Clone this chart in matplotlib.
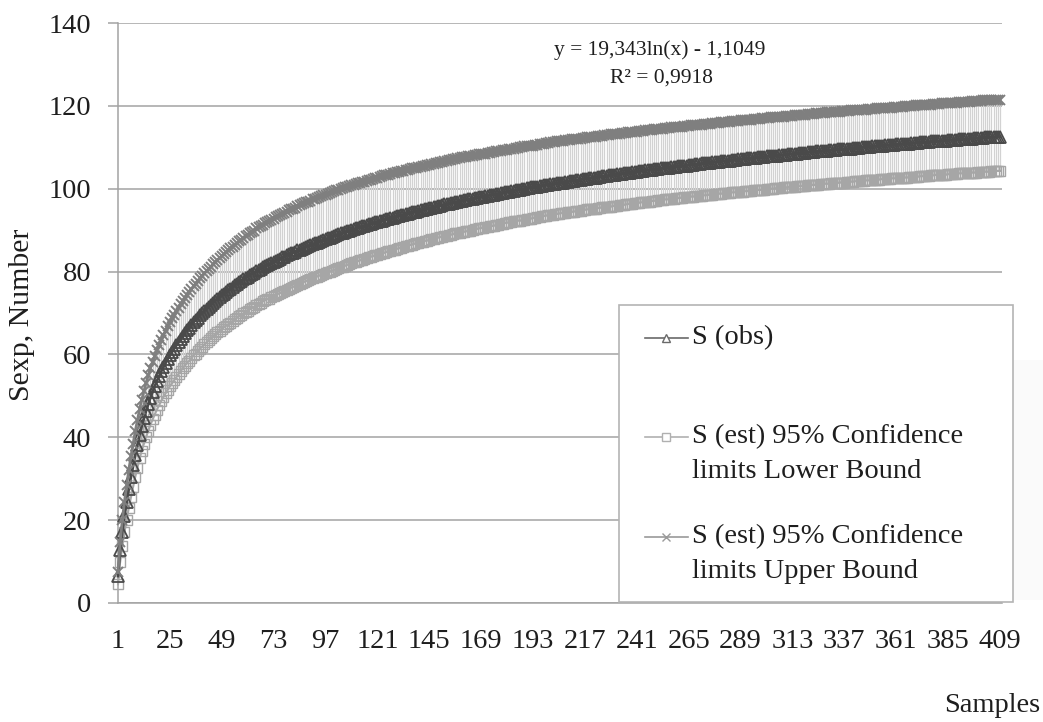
import matplotlib
matplotlib.use("Agg")
import matplotlib.pyplot as plt
from matplotlib.lines import Line2D
from matplotlib.patches import Rectangle

plt.rcParams['font.family'] = ['Liberation Serif', 'DejaVu Serif']

# ---------------- data ----------------
samples = list(range(1, 410))

s_obs = [
    6.5, 12.8, 17.2, 21.0, 24.4, 27.6, 30.5, 33.2, 35.8, 38.2,
    40.6, 42.7, 44.6, 46.4, 48.0, 49.6, 51.0, 52.3, 53.6, 54.7, 55.9, 56.9, 57.9, 58.9, 59.8,
    60.6, 61.4, 62.2, 63.0, 63.8, 64.5, 65.2, 65.9, 66.5, 67.2, 67.8, 68.3, 68.9, 69.5, 70.0,
    70.5, 71.0, 71.5, 72.0, 72.5, 73.0, 73.4, 73.8, 74.3, 74.7, 75.1, 75.5, 75.9, 76.3, 76.7,
    77.0, 77.4, 77.7, 78.1, 78.5, 78.8, 79.1, 79.4, 79.7, 80.1, 80.4, 80.7, 81.0, 81.3, 81.5,
    81.8, 82.1, 82.3, 82.6, 82.9, 83.1, 83.4, 83.6, 83.9, 84.2,
    84.4, 84.6, 84.8, 85.1, 85.3, 85.5, 85.8, 86.0, 86.2, 86.4,
    86.6, 86.8, 87.0, 87.2, 87.4, 87.6, 87.8, 88.0, 88.2, 88.4,
    88.6, 88.8, 89.0, 89.2, 89.3, 89.5, 89.7, 89.9, 90.1, 90.2,
    90.4, 90.6, 90.7, 90.9, 91.0, 91.2, 91.4, 91.5, 91.7, 91.9,
    92.0, 92.2, 92.3, 92.5, 92.6, 92.7, 92.9, 93.0, 93.2, 93.3,
    93.5, 93.6, 93.7, 93.9, 94.0, 94.1, 94.3, 94.4, 94.5, 94.7,
    94.8, 94.9, 95.0, 95.2, 95.3, 95.4, 95.5, 95.7, 95.8, 95.9,
    96.0, 96.2, 96.3, 96.4, 96.5, 96.6, 96.7, 96.8, 97.0, 97.1,
    97.2, 97.3, 97.4, 97.5, 97.6, 97.7, 97.8, 97.9, 98.0, 98.1,
    98.2, 98.3, 98.4, 98.5, 98.6, 98.7, 98.8, 98.9, 99.0, 99.1,
    99.2, 99.3, 99.4, 99.5, 99.6, 99.7, 99.8, 99.9, 100.0, 100.1,
    100.2, 100.3, 100.3, 100.4, 100.5, 100.6, 100.7, 100.8, 100.9, 101.0,
    101.1, 101.1, 101.2, 101.3, 101.4, 101.5, 101.5, 101.6, 101.7, 101.8,
    101.9, 101.9, 102.0, 102.1, 102.2, 102.3, 102.4, 102.4, 102.5, 102.6,
    102.7, 102.7, 102.8, 102.9, 103.0, 103.0, 103.1, 103.2, 103.3, 103.3,
    103.4, 103.5, 103.6, 103.6, 103.7, 103.8, 103.8, 103.9, 104.0, 104.1,
    104.1, 104.2, 104.3, 104.3, 104.4, 104.5, 104.5, 104.6, 104.7, 104.7,
    104.8, 104.9, 104.9, 105.0, 105.1, 105.1, 105.2, 105.3, 105.3, 105.4,
    105.5, 105.5, 105.6, 105.6, 105.7, 105.8, 105.8, 105.9, 105.9, 106.0,
    106.1, 106.1, 106.2, 106.2, 106.3, 106.4, 106.4, 106.5, 106.5, 106.6,
    106.7, 106.7, 106.8, 106.8, 106.9, 106.9, 107.0, 107.1, 107.1, 107.2,
    107.2, 107.3, 107.3, 107.4, 107.4, 107.5, 107.6, 107.6, 107.7, 107.7,
    107.8, 107.8, 107.9, 107.9, 108.0, 108.0, 108.1, 108.1, 108.2, 108.2,
    108.3, 108.4, 108.4, 108.5, 108.5, 108.6, 108.6, 108.7, 108.7, 108.8,
    108.8, 108.9, 108.9, 109.0, 109.0, 109.1, 109.1, 109.2, 109.2, 109.3,
    109.3, 109.4, 109.4, 109.5, 109.5, 109.5, 109.6, 109.6, 109.7, 109.7,
    109.8, 109.8, 109.9, 109.9, 110.0, 110.0, 110.1, 110.1, 110.1, 110.2,
    110.2, 110.3, 110.3, 110.4, 110.4, 110.5, 110.5, 110.5, 110.6, 110.6,
    110.7, 110.7, 110.8, 110.8, 110.9, 110.9, 110.9, 111.0, 111.0, 111.1,
    111.1, 111.2, 111.2, 111.2, 111.3, 111.3, 111.4, 111.4, 111.4, 111.5,
    111.5, 111.6, 111.6, 111.6, 111.7, 111.7, 111.8, 111.8, 111.8, 111.9,
    111.9, 112.0, 112.0, 112.0, 112.1, 112.1, 112.2, 112.2, 112.2, 112.3,
    112.3, 112.4, 112.4, 112.4, 112.5, 112.5, 112.5, 112.6, 112.6,
]

s_lower = [
    4.5, 10.0, 13.8, 17.1, 20.1, 23.0, 25.6, 28.1, 30.5, 32.7,
    34.9, 36.8, 38.5, 40.1, 41.5, 43.0, 44.3, 45.5, 46.7, 47.7, 48.8, 49.7, 50.6, 51.5, 52.3,
    53.0, 53.8, 54.5, 55.3, 56.0, 56.7, 57.3, 58.0, 58.5, 59.2, 59.8, 60.2, 60.8, 61.4, 61.9,
    62.4, 62.9, 63.4, 63.9, 64.4, 64.9, 65.3, 65.7, 66.2, 66.6, 66.9, 67.3, 67.7, 68.1, 68.5,
    68.8, 69.2, 69.5, 69.9, 70.3, 70.6, 70.9, 71.2, 71.5, 71.9, 72.2, 72.5, 72.8, 73.1, 73.3,
    73.5, 73.8, 74.0, 74.3, 74.6, 74.8, 75.1, 75.3, 75.6, 75.9,
    76.1, 76.3, 76.5, 76.8, 77.0, 77.2, 77.5, 77.7, 77.9, 78.1,
    78.4, 78.6, 78.8, 79.0, 79.2, 79.4, 79.6, 79.8, 80.0, 80.2,
    80.4, 80.6, 80.8, 81.0, 81.2, 81.4, 81.6, 81.8, 82.0, 82.2,
    82.3, 82.5, 82.7, 82.9, 83.0, 83.2, 83.4, 83.6, 83.7, 83.9,
    84.1, 84.2, 84.4, 84.5, 84.7, 84.9, 85.0, 85.2, 85.3, 85.5,
    85.6, 85.8, 85.9, 86.1, 86.2, 86.4, 86.5, 86.7, 86.8, 87.0,
    87.1, 87.2, 87.4, 87.5, 87.6, 87.8, 87.9, 88.0, 88.2, 88.3,
    88.4, 88.6, 88.7, 88.8, 88.9, 89.0, 89.2, 89.3, 89.4, 89.5,
    89.6, 89.7, 89.8, 89.9, 90.1, 90.2, 90.3, 90.4, 90.5, 90.6,
    90.7, 90.8, 90.9, 91.0, 91.1, 91.2, 91.3, 91.4, 91.6, 91.7,
    91.8, 91.9, 92.0, 92.1, 92.2, 92.3, 92.3, 92.4, 92.5, 92.6,
    92.7, 92.8, 92.9, 93.0, 93.1, 93.2, 93.3, 93.4, 93.5, 93.6,
    93.7, 93.7, 93.8, 93.9, 94.0, 94.1, 94.1, 94.2, 94.3, 94.4,
    94.4, 94.5, 94.6, 94.7, 94.7, 94.8, 94.9, 95.0, 95.0, 95.1,
    95.2, 95.2, 95.3, 95.4, 95.5, 95.5, 95.6, 95.7, 95.7, 95.8,
    95.9, 95.9, 96.0, 96.1, 96.1, 96.2, 96.3, 96.4, 96.4, 96.5,
    96.6, 96.6, 96.7, 96.7, 96.8, 96.9, 96.9, 97.0, 97.1, 97.1,
    97.2, 97.2, 97.3, 97.4, 97.4, 97.5, 97.5, 97.6, 97.7, 97.7,
    97.8, 97.8, 97.9, 97.9, 98.0, 98.1, 98.1, 98.2, 98.2, 98.3,
    98.3, 98.4, 98.4, 98.5, 98.6, 98.6, 98.7, 98.7, 98.8, 98.8,
    98.9, 98.9, 99.0, 99.0, 99.1, 99.1, 99.2, 99.2, 99.3, 99.3,
    99.4, 99.4, 99.5, 99.5, 99.6, 99.6, 99.7, 99.7, 99.8, 99.8,
    99.9, 99.9, 100.0, 100.0, 100.1, 100.1, 100.2, 100.2, 100.3, 100.3,
    100.4, 100.4, 100.5, 100.5, 100.6, 100.6, 100.6, 100.7, 100.7, 100.8,
    100.8, 100.9, 100.9, 101.0, 101.0, 101.1, 101.1, 101.2, 101.2, 101.2,
    101.3, 101.3, 101.4, 101.4, 101.5, 101.5, 101.5, 101.6, 101.6, 101.7,
    101.7, 101.8, 101.8, 101.8, 101.9, 101.9, 102.0, 102.0, 102.0, 102.1,
    102.1, 102.2, 102.2, 102.3, 102.3, 102.3, 102.4, 102.4, 102.5, 102.5,
    102.5, 102.6, 102.6, 102.7, 102.7, 102.7, 102.8, 102.8, 102.9, 102.9,
    102.9, 103.0, 103.0, 103.1, 103.1, 103.1, 103.2, 103.2, 103.3, 103.3,
    103.3, 103.4, 103.4, 103.4, 103.5, 103.5, 103.5, 103.6, 103.6, 103.7,
    103.7, 103.7, 103.8, 103.8, 103.8, 103.9, 103.9, 103.9, 104.0, 104.0,
    104.0, 104.1, 104.1, 104.1, 104.2, 104.2, 104.3, 104.3, 104.3,
]

s_upper = [
    7.5, 14.8, 20.0, 24.5, 28.4, 32.1, 35.4, 38.5, 41.5, 44.2,
    46.8, 49.1, 51.2, 53.2, 55.0, 56.7, 58.2, 59.6, 61.0, 62.2, 63.5, 64.6, 65.7, 66.8, 67.8,
    68.7, 69.5, 70.4, 71.3, 72.1, 72.9, 73.7, 74.4, 75.1, 75.9, 76.5, 77.1, 77.8, 78.4, 79.0,
    79.6, 80.1, 80.7, 81.2, 81.8, 82.3, 82.8, 83.2, 83.8, 84.2, 84.7, 85.1, 85.6, 86.0, 86.5,
    86.8, 87.3, 87.6, 88.1, 88.5, 88.9, 89.2, 89.6, 89.9, 90.4, 90.7, 91.0, 91.3, 91.7, 91.9,
    92.2, 92.5, 92.8, 93.1, 93.4, 93.6, 93.9, 94.2, 94.5, 94.8,
    95.0, 95.2, 95.4, 95.8, 96.0, 96.2, 96.5, 96.7, 96.9, 97.1,
    97.4, 97.6, 97.8, 98.0, 98.2, 98.4, 98.6, 98.8, 99.0, 99.2,
    99.4, 99.6, 99.8, 100.0, 100.1, 100.3, 100.5, 100.7, 100.9, 101.0,
    101.1, 101.3, 101.4, 101.6, 101.7, 101.9, 102.1, 102.2, 102.4, 102.6,
    102.7, 102.9, 103.0, 103.2, 103.3, 103.4, 103.6, 103.7, 103.9, 104.0,
    104.1, 104.2, 104.3, 104.5, 104.6, 104.7, 104.9, 105.0, 105.1, 105.3,
    105.3, 105.4, 105.5, 105.7, 105.8, 105.9, 106.0, 106.2, 106.3, 106.4,
    106.5, 106.7, 106.8, 106.9, 107.0, 107.1, 107.2, 107.3, 107.5, 107.6,
    107.6, 107.7, 107.8, 107.9, 108.0, 108.1, 108.2, 108.3, 108.4, 108.5,
    108.5, 108.6, 108.7, 108.8, 108.9, 109.0, 109.1, 109.2, 109.3, 109.4,
    109.4, 109.5, 109.6, 109.7, 109.8, 109.9, 110.0, 110.1, 110.2, 110.3,
    110.3, 110.4, 110.4, 110.5, 110.6, 110.7, 110.8, 110.9, 111.0, 111.1,
    111.2, 111.2, 111.3, 111.4, 111.4, 111.5, 111.6, 111.7, 111.7, 111.8,
    111.9, 111.9, 112.0, 112.1, 112.1, 112.2, 112.3, 112.4, 112.4, 112.5,
    112.6, 112.6, 112.7, 112.7, 112.8, 112.9, 112.9, 113.0, 113.1, 113.1,
    113.2, 113.3, 113.3, 113.4, 113.4, 113.5, 113.6, 113.6, 113.7, 113.8,
    113.8, 113.9, 113.9, 114.0, 114.1, 114.1, 114.2, 114.2, 114.3, 114.3,
    114.4, 114.5, 114.5, 114.6, 114.6, 114.7, 114.8, 114.8, 114.9, 114.9,
    115.0, 115.0, 115.1, 115.1, 115.2, 115.3, 115.3, 115.4, 115.4, 115.5,
    115.5, 115.6, 115.6, 115.7, 115.7, 115.8, 115.8, 115.9, 115.9, 116.0,
    116.1, 116.1, 116.2, 116.2, 116.3, 116.3, 116.4, 116.4, 116.5, 116.5,
    116.6, 116.6, 116.7, 116.7, 116.8, 116.8, 116.9, 116.9, 117.0, 117.0,
    117.1, 117.1, 117.2, 117.2, 117.3, 117.3, 117.3, 117.4, 117.4, 117.5,
    117.5, 117.6, 117.6, 117.7, 117.7, 117.8, 117.8, 117.9, 117.9, 118.0,
    118.0, 118.1, 118.1, 118.2, 118.2, 118.2, 118.3, 118.3, 118.4, 118.4,
    118.5, 118.5, 118.6, 118.6, 118.6, 118.7, 118.7, 118.8, 118.8, 118.9,
    118.9, 118.9, 119.0, 119.0, 119.1, 119.1, 119.1, 119.2, 119.2, 119.3,
    119.3, 119.4, 119.4, 119.4, 119.5, 119.5, 119.6, 119.6, 119.6, 119.7,
    119.7, 119.8, 119.8, 119.8, 119.9, 119.9, 120.0, 120.0, 120.0, 120.1,
    120.1, 120.2, 120.2, 120.2, 120.3, 120.3, 120.3, 120.4, 120.4, 120.5,
    120.5, 120.6, 120.6, 120.6, 120.7, 120.7, 120.7, 120.8, 120.8, 120.9,
    120.9, 120.9, 121.0, 121.0, 121.0, 121.1, 121.1, 121.1, 121.2, 121.2,
    121.3, 121.3, 121.3, 121.4, 121.4, 121.4, 121.5, 121.5, 121.5,
]

x_tick_labels = list(range(1, 410, 24))
y_ticks = list(range(0, 141, 20))

label_obs = "S (obs)"
label_lower = ["S (est) 95% Confidence", "limits Lower Bound"]
label_upper = ["S (est) 95% Confidence", "limits Upper Bound"]
equation_text = ["y = 19,343ln(x) - 1,1049", "R\u00b2 = 0,9918"]

# ---------------- figure ----------------
W, H = 1043, 722
fig = plt.figure(figsize=(W / 100, H / 100), dpi=100)
fig.patch.set_facecolor("white")

def fx(px):
    return px / W

def fy(py):
    return 1 - py / H

ax = fig.add_axes([fx(118), fy(603), (1002 - 118) / W, (603 - 23) / H])

GRID = "#a3a3a3"
C_OBS = "#4a4a4a"
C_LOW = "#a6a6a6"
C_UP = "#7f7f7f"
C_HL = "#d2d2d2"
TXT = "#1e1e1e"

ax.vlines(samples, s_lower, s_upper, colors=C_HL, linewidth=0.9, zorder=1)
ax.plot(samples, s_lower, color=C_LOW, lw=1.5, marker="s", ms=7,
        mfc="none", mec=C_LOW, mew=1.0, zorder=3, clip_on=False)
ax.plot(samples, s_obs, color=C_OBS, lw=2.0, marker="^", ms=8,
        mfc="none", mec=C_OBS, mew=1.3, zorder=4, clip_on=False)
ax.plot(samples, s_upper, color=C_UP, lw=2.0, marker="x", ms=7.5,
        mec=C_UP, mew=1.4, zorder=5, clip_on=False)

ax.set_xlim(1, 409.93)
ax.set_ylim(0, 140)
ax.set_yticks(y_ticks)
ax.set_xticks(x_tick_labels)
ax.set_xticklabels([str(v) for v in x_tick_labels])

ax.yaxis.grid(True, color=GRID, lw=1.1, zorder=0)
ax.set_axisbelow(True)
for side in ("top", "right"):
    ax.spines[side].set_visible(False)
for side in ("left", "bottom"):
    ax.spines[side].set_color(GRID)
    ax.spines[side].set_linewidth(1.1)

ax.tick_params(axis="y", direction="out", length=7.2, width=1.1, color=GRID,
               pad=12, labelsize=20.5, labelcolor=TXT)
ax.tick_params(axis="x", length=0, pad=19, labelsize=20.5, labelcolor=TXT)

# axis titles
fig.text(fx(22), fy(315), "Sexp, Number", rotation=90, ha="center", va="center",
         fontsize=21.5, color=TXT)
fig.text(fx(1040), fy(706), "Samples", ha="right", va="center", fontsize=20.5, color=TXT)

# trend line equation
fig.text(fx(660), fy(50), equation_text[0], ha="center", va="center", fontsize=15.5, color=TXT)
fig.text(fx(662), fy(78), equation_text[1], ha="center", va="center", fontsize=15.5, color=TXT)

# faint background patch to the right of legend
fig.add_artist(Rectangle((fx(1013), fy(600)), (1043 - 1013) / W, (600 - 360) / H,
                         transform=fig.transFigure, facecolor="#fafafa",
                         edgecolor="none", zorder=0))

# legend (built by hand to match layout)
fig.add_artist(Rectangle((fx(619), fy(602)), (1013 - 619) / W, (602 - 305) / H,
                         transform=fig.transFigure, facecolor="white",
                         edgecolor="#b4b4b4", linewidth=1.2, zorder=10))

entries = [
    (338, [label_obs], "#6a6a6a", "^", "none", 1.0),
    (437, label_lower, "#b0b0b0", "s", "none", 1.0),
    (537, label_upper, "#9a9a9a", "x", None, 1.0),
]
for ypx, lines, col, mk, mfc, mew in entries:
    fig.add_artist(Line2D([fx(645), fx(688)], [fy(ypx), fy(ypx)], color=col,
                          lw=1.2, transform=fig.transFigure, zorder=11))
    kw = dict(marker=mk, ms=6, mec=col, mew=mew, transform=fig.transFigure,
              zorder=12, linestyle="none")
    if mfc is not None:
        kw["mfc"] = "white"
    fig.add_artist(Line2D([fx(666)], [fy(ypx)], **kw))
    for i, t in enumerate(lines):
        fig.text(fx(692), fy(ypx + i * 35), t, ha="left", va="center",
                 fontsize=20.5, color=TXT, zorder=12)

fig.savefig("out.png", dpi=100, facecolor="white")
